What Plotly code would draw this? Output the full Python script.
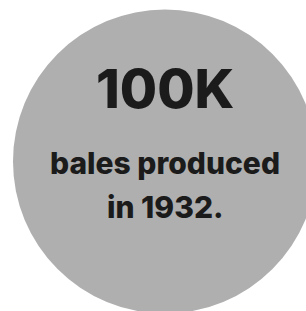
import plotly.graph_objects as go

# Data
stat_value = ["100K"]
caption_lines = ["bales produced", "in 1932."]

# Layout / style (coordinates in page pixels)
W, H = 306, 311
cx, cy, r = 165, 161.5, 152
circle_color = "#afafaf"
text_color = "#1b1b1b"
font_family = "Inter"

fig = go.Figure()
fig.add_shape(
    type="circle", xref="x", yref="y",
    x0=cx - r, x1=cx + r, y0=cy - r, y1=cy + r,
    fillcolor=circle_color, line=dict(width=0), layer="below",
)

fig.add_annotation(
    x=165, y=88, xref="x", yref="y", text=stat_value[0], showarrow=False,
    font=dict(family=font_family, size=54, color=text_color, weight=800),
    xanchor="center", yanchor="middle",
)
caption_y = [163, 207]
for line, yy in zip(caption_lines, caption_y):
    fig.add_annotation(
        x=165, y=yy, xref="x", yref="y", text=line, showarrow=False,
        font=dict(family=font_family, size=30, color=text_color, weight=800),
        xanchor="center", yanchor="middle",
    )

fig.update_layout(
    width=W, height=H,
    margin=dict(l=0, r=0, t=0, b=0),
    paper_bgcolor="#ffffff", plot_bgcolor="rgba(0,0,0,0)",
    xaxis=dict(range=[0, W], visible=False, fixedrange=True),
    yaxis=dict(range=[H, 0], visible=False, fixedrange=True),
)

fig.write_html(
    "out.html",
    config={"displayModeBar": False},
    post_script="document.body.style.margin='0';document.body.style.overflow='hidden';",
)
